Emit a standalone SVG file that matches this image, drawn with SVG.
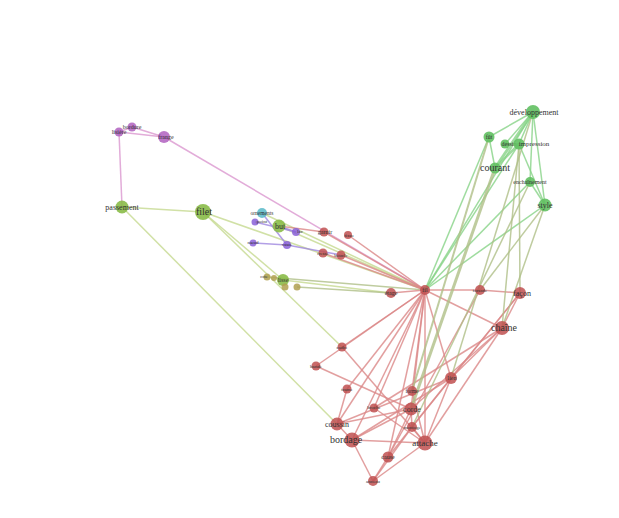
<svg xmlns="http://www.w3.org/2000/svg" width="619" height="518" viewBox="0 0 619 518">
<style>
.e line{stroke-width:1.5;opacity:0.8}
.r{stroke:#dc8888}
.g{stroke:#88d488}
.o{stroke:#c6da90}
.p{stroke:#dc98d0}
.v{stroke:#a088e0}
.b{stroke:#b0c088}
.t{font-family:"Liberation Serif",serif;fill:#333;text-anchor:middle}
.nr{fill:#c05050;opacity:0.85}
.ng{fill:#62c062;opacity:0.9}
.no{fill:#8abb48;opacity:0.9}
.np{fill:#b060c0;opacity:0.85}
.nv{fill:#8a60d8;opacity:0.85}
.nc{fill:#58b8c8;opacity:0.85}
.ny{fill:#b0a050;opacity:0.85}
</style>
<rect width="619" height="518" fill="#fff"/>
<g id="connectors" class="e">
<line class="p" x1="119" y1="132" x2="132" y2="127"/>
<line class="p" x1="132" y1="127" x2="164" y2="137"/>
<line class="p" x1="119" y1="132" x2="164" y2="137"/>
<line class="p" x1="164" y1="137" x2="425" y2="290"/>
<line class="p" x1="119" y1="132" x2="122" y2="207"/>
<line class="o" x1="122" y1="207" x2="203" y2="212"/>
<line class="o" x1="122" y1="207" x2="337" y2="424"/>
<line class="o" x1="203" y1="212" x2="342" y2="347"/>
<line class="o" x1="203" y1="212" x2="283" y2="280"/>
<line class="o" x1="203" y1="212" x2="425" y2="290"/>
<line class="o" x1="262" y1="213" x2="425" y2="290"/>
<line class="o" x1="279" y1="226" x2="425" y2="290"/>
<line class="v" x1="255" y1="222" x2="296" y2="232"/>
<line class="v" x1="279" y1="226" x2="296" y2="232"/>
<line class="v" x1="253" y1="243" x2="287" y2="245"/>
<line class="v" x1="287" y1="245" x2="341" y2="255"/>
<line class="v" x1="262" y1="213" x2="287" y2="245"/>
<line class="o" x1="283" y1="280" x2="391" y2="293"/>
<line class="b" x1="267" y1="277" x2="425" y2="290"/>
<line class="b" x1="297" y1="287" x2="391" y2="293"/>
<line class="r" x1="324" y1="232" x2="425" y2="290"/>
<line class="r" x1="348" y1="235" x2="425" y2="290"/>
<line class="r" x1="323" y1="253" x2="425" y2="290"/>
<line class="r" x1="341" y1="255" x2="425" y2="290"/>
<line class="r" x1="279" y1="226" x2="324" y2="232"/>
<line class="r" x1="391" y1="293" x2="425" y2="290"/>
<line class="r" x1="425" y1="290" x2="480" y2="290"/>
<line class="r" x1="480" y1="290" x2="520" y2="293"/>
<line class="r" x1="425" y1="290" x2="502" y2="328"/>
<line class="r" x1="425" y1="290" x2="342" y2="347"/>
<line class="r" x1="425" y1="290" x2="316" y2="366"/>
<line class="r" x1="425" y1="290" x2="347" y2="389"/>
<line class="r" x1="425" y1="290" x2="337" y2="424"/>
<line class="r" x1="425" y1="290" x2="352" y2="440"/>
<line class="r" x1="425" y1="290" x2="374" y2="408"/>
<line class="r" x1="425" y1="290" x2="411" y2="409"/>
<line class="r" x1="425" y1="290" x2="412" y2="391"/>
<line class="r" x1="425" y1="290" x2="425" y2="443"/>
<line class="r" x1="425" y1="290" x2="388" y2="457"/>
<line class="r" x1="425" y1="290" x2="451" y2="378"/>
<line class="r" x1="520" y1="293" x2="451" y2="378"/>
<line class="r" x1="520" y1="293" x2="502" y2="328"/>
<line class="r" x1="502" y1="328" x2="451" y2="378"/>
<line class="r" x1="502" y1="328" x2="425" y2="443"/>
<line class="r" x1="502" y1="328" x2="411" y2="409"/>
<line class="r" x1="502" y1="328" x2="374" y2="408"/>
<line class="r" x1="520" y1="293" x2="412" y2="427"/>
<line class="r" x1="480" y1="290" x2="388" y2="457"/>
<line class="r" x1="451" y1="378" x2="352" y2="440"/>
<line class="r" x1="451" y1="378" x2="337" y2="424"/>
<line class="r" x1="451" y1="378" x2="425" y2="443"/>
<line class="r" x1="451" y1="378" x2="388" y2="457"/>
<line class="r" x1="342" y1="347" x2="425" y2="443"/>
<line class="r" x1="316" y1="366" x2="411" y2="409"/>
<line class="r" x1="347" y1="389" x2="337" y2="424"/>
<line class="r" x1="374" y1="408" x2="425" y2="443"/>
<line class="r" x1="337" y1="424" x2="352" y2="440"/>
<line class="r" x1="337" y1="424" x2="411" y2="409"/>
<line class="r" x1="352" y1="440" x2="425" y2="443"/>
<line class="r" x1="352" y1="440" x2="411" y2="409"/>
<line class="r" x1="352" y1="440" x2="373" y2="481"/>
<line class="r" x1="388" y1="457" x2="373" y2="481"/>
<line class="r" x1="412" y1="427" x2="373" y2="481"/>
<line class="r" x1="425" y1="443" x2="373" y2="481"/>
<line class="r" x1="411" y1="409" x2="388" y2="457"/>
<line class="r" x1="412" y1="391" x2="425" y2="443"/>
<line class="r" x1="412" y1="427" x2="425" y2="443"/>
<line class="r" x1="411" y1="409" x2="412" y2="427"/>
<line class="g" x1="489" y1="137" x2="533" y2="112"/>
<line class="g" x1="489" y1="137" x2="495" y2="168"/>
<line class="g" x1="533" y1="112" x2="505" y2="144"/>
<line class="g" x1="533" y1="112" x2="519" y2="144"/>
<line class="g" x1="533" y1="112" x2="530" y2="182"/>
<line class="g" x1="533" y1="112" x2="545" y2="205"/>
<line class="g" x1="519" y1="144" x2="545" y2="205"/>
<line class="g" x1="505" y1="144" x2="519" y2="144"/>
<line class="g" x1="495" y1="168" x2="533" y2="112" style="stroke-width:3"/>
<line class="g" x1="495" y1="168" x2="519" y2="144" style="stroke-width:2.5"/>
<line class="g" x1="530" y1="182" x2="545" y2="205"/>
<line class="g" x1="489" y1="137" x2="425" y2="290"/>
<line class="g" x1="533" y1="112" x2="425" y2="290"/>
<line class="g" x1="519" y1="144" x2="425" y2="290"/>
<line class="g" x1="545" y1="205" x2="425" y2="290"/>
<line class="g" x1="530" y1="182" x2="425" y2="290"/>
<line class="b" x1="495" y1="168" x2="411" y2="409" style="stroke-width:3"/>
<line class="b" x1="489" y1="137" x2="412" y2="391" style="stroke-width:2"/>
<line class="b" x1="533" y1="112" x2="451" y2="378"/>
<line class="b" x1="545" y1="205" x2="502" y2="328"/>
<line class="b" x1="519" y1="144" x2="502" y2="328"/>
<line class="b" x1="545" y1="205" x2="480" y2="290"/>
<line class="b" x1="530" y1="182" x2="412" y2="427"/>
<line class="b" x1="519" y1="144" x2="520" y2="293"/>
</g>
<g id="n-lisiere"><circle class="np" cx="119" cy="132" r="4.5"/><text class="t" x="119" y="134" font-size="6">lisière</text></g>
<g id="n-bordure"><circle class="np" cx="132" cy="127" r="4.5"/><text class="t" x="132" y="129" font-size="6">bordure</text></g>
<g id="n-frange"><circle class="np" cx="164" cy="137" r="6"/><text class="t" x="166" y="139" font-size="6">frange</text></g>
<g id="n-passement"><circle class="no" cx="122" cy="207" r="6.5"/><text class="t" x="122" y="210" font-size="8">passement</text></g>
<g id="n-filet"><circle class="no" cx="203" cy="212" r="8"/><text class="t" x="204" y="215" font-size="10">filet</text></g>
<g id="n-ornements"><circle class="nc" cx="262" cy="213" r="5"/><text class="t" x="262" y="215" font-size="5.5">ornements</text></g>
<g id="n-point"><circle class="nv" cx="255" cy="222" r="3.5"/><text class="t" x="262" y="223" font-size="5">point</text></g>
<g id="n-but"><circle class="no" cx="279" cy="226" r="6.5"/><text class="t" x="280" y="229" font-size="8">but</text></g>
<g id="n-lac"><circle class="nv" cx="296" cy="232" r="4"/><text class="t" x="300" y="233" font-size="5">lac</text></g>
<g id="n-noeud"><circle class="nv" cx="253" cy="243" r="3.5"/><text class="t" x="253" y="244" font-size="5">nœud</text></g>
<g id="n-vaste"><circle class="nv" cx="287" cy="245" r="4"/><text class="t" x="287" y="246" font-size="5">vaste</text></g>
<g id="n-garnir"><circle class="nr" cx="324" cy="232" r="4.5"/><text class="t" x="325" y="234" font-size="6">garnir</text></g>
<g id="n-tissu"><circle class="nr" cx="348" cy="235" r="4"/><text class="t" x="349" y="237" font-size="5">tissu</text></g>
<g id="n-tresse"><circle class="nr" cx="323" cy="253" r="4.5"/><text class="t" x="323" y="255" font-size="5">tresse</text></g>
<g id="n-boucle"><circle class="nr" cx="341" cy="255" r="4.5"/><text class="t" x="341" y="257" font-size="5">boucle</text></g>
<g id="n-lisse"><circle class="no" cx="283" cy="280" r="6"/><text class="t" x="283" y="282" font-size="6">lisse</text></g>
<g id="n-cote"><circle class="ny" cx="267" cy="277" r="3.5"/><text class="t" x="264" y="278" font-size="4.5">cote</text></g>
<g id="n-gal"><circle class="ny" cx="274" cy="278" r="3"/></g>
<g id="n-fer"><circle class="ny" cx="285" cy="287" r="3.5"/></g>
<g id="n-laine"><circle class="ny" cx="297" cy="287" r="3.5"/></g>
<g id="n-etage"><circle class="nr" cx="391" cy="293" r="5"/><text class="t" x="391" y="295" font-size="6">étage</text></g>
<g id="n-fil"><circle class="nr" cx="425" cy="290" r="5"/><text class="t" x="425" y="292" font-size="6">fil</text></g>
<g id="n-torsade"><circle class="nr" cx="480" cy="290" r="5"/><text class="t" x="480" y="292" font-size="5">torsade</text></g>
<g id="n-facon"><circle class="nr" cx="520" cy="293" r="6"/><text class="t" x="522" y="296" font-size="8">façon</text></g>
<g id="n-chaine"><circle class="nr" cx="502" cy="328" r="7"/><text class="t" x="504" y="331" font-size="10">chaîne</text></g>
<g id="n-cadre"><circle class="nr" cx="342" cy="347" r="4.5"/><text class="t" x="342" y="349" font-size="5">cadre</text></g>
<g id="n-bande"><circle class="nr" cx="316" cy="366" r="4.5"/><text class="t" x="316" y="368" font-size="5">bande</text></g>
<g id="n-trame"><circle class="nr" cx="347" cy="389" r="4.5"/><text class="t" x="347" y="391" font-size="5">trame</text></g>
<g id="n-forme"><circle class="nr" cx="412" cy="391" r="5"/><text class="t" x="412" y="393" font-size="5.5">forme</text></g>
<g id="n-lien"><circle class="nr" cx="451" cy="378" r="6"/><text class="t" x="452" y="380" font-size="6">lien</text></g>
<g id="n-broche"><circle class="nr" cx="374" cy="408" r="4.5"/><text class="t" x="374" y="409" font-size="5">broche</text></g>
<g id="n-corde"><circle class="nr" cx="411" cy="409" r="6.5"/><text class="t" x="412" y="412" font-size="8">corde</text></g>
<g id="n-coussin"><circle class="nr" cx="337" cy="424" r="6.5"/><text class="t" x="337" y="427" font-size="8">coussin</text></g>
<g id="n-montage"><circle class="nr" cx="412" cy="427" r="5"/><text class="t" x="412" y="429" font-size="5">montage</text></g>
<g id="n-bordage"><circle class="nr" cx="352" cy="440" r="7.5"/><text class="t" x="346" y="443" font-size="10">bordage</text></g>
<g id="n-attache"><circle class="nr" cx="425" cy="443" r="7.5"/><text class="t" x="425" y="446" font-size="9">attache</text></g>
<g id="n-cause"><circle class="nr" cx="388" cy="457" r="5.5"/><text class="t" x="388" y="459" font-size="6">cause</text></g>
<g id="n-anneau"><circle class="nr" cx="373" cy="481" r="5"/><text class="t" x="373" y="483" font-size="5">anneau</text></g>
<g id="n-fut"><circle class="ng" cx="489" cy="137" r="5.5"/><text class="t" x="489" y="139" font-size="6">fût</text></g>
<g id="n-developpement"><circle class="ng" cx="533" cy="112" r="7"/><text class="t" x="534" y="115" font-size="8">développement</text></g>
<g id="n-dessin"><circle class="ng" cx="505" cy="144" r="4.5"/><text class="t" x="509" y="146" font-size="6">dessin</text></g>
<g id="n-impression"><circle class="ng" cx="519" cy="144" r="5.5"/><text class="t" x="534" y="146" font-size="7">impression</text></g>
<g id="n-courant"><circle class="ng" cx="495" cy="168" r="5.5"/><text class="t" x="495" y="171" font-size="10">courant</text></g>
<g id="n-enchainement"><circle class="ng" cx="530" cy="182" r="5"/><text class="t" x="530" y="184" font-size="6">enchaînement</text></g>
<g id="n-style"><circle class="ng" cx="545" cy="205" r="6.5"/><text class="t" x="545" y="208" font-size="8">style</text></g>
</svg>
